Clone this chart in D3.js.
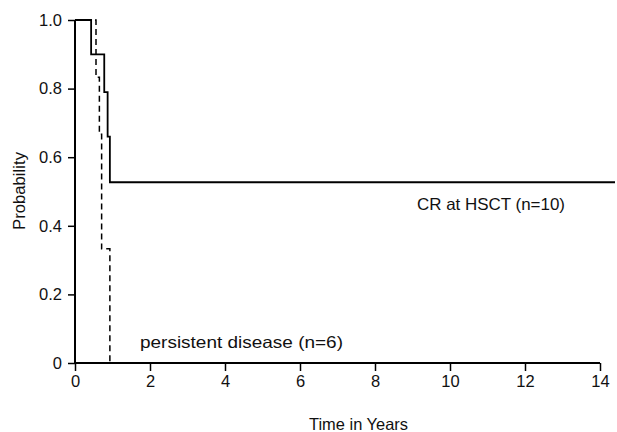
<!DOCTYPE html>
<html>
<head>
<meta charset="utf-8">
<script src="https://cdn.jsdelivr.net/npm/d3@7"></script>
<style>
  body { margin: 0; background: #fff; }
  text { font-family: "Liberation Sans", Arial, sans-serif; }
</style>
</head>
<body>
<div id="mainChart"></div>
<script>
// Kaplan-Meier style step curves
const crTimes = [0, 0.43, 0.78, 0.87, 0.93, 14.4];
const crProb = [1.0, 0.9, 0.79, 0.66, 0.527, 0.527];

const pdTimes = [0, 0.56, 0.65, 0.71, 0.93];
const pdProb = [1.0, 0.833, 0.667, 0.333, 0.0];

const xTicks = [0, 2, 4, 6, 8, 10, 12, 14];
const yTicks = [0, 0.2, 0.4, 0.6, 0.8, 1.0];

const CHART_SIZE = { width: 617, height: 432 };
const MARGIN = { top: 20, right: 17, bottom: 69, left: 75 };

const x = d3.scaleLinear()
    .domain([0, 14])
    .range([MARGIN.left, CHART_SIZE.width - MARGIN.right]);

const y = d3.scaleLinear()
    .domain([0, 1])
    .range([CHART_SIZE.height - MARGIN.bottom, MARGIN.top]);

const svg = d3.select('#mainChart')
    .append('svg')
    .attr('width', CHART_SIZE.width)
    .attr('height', CHART_SIZE.height);

const xAxis = svg.append('g')
    .attr('transform', `translate(0, ${y(0)})`)
    .call(d3.axisBottom(x).tickValues(xTicks).tickSize(8).tickPadding(4).tickFormat(d3.format('d')));

const yAxis = svg.append('g')
    .attr('transform', `translate(${x(0)}, 0)`)
    .call(d3.axisLeft(y).tickValues(yTicks).tickSize(7).tickPadding(6)
        .tickFormat(d => d === 0 ? '0' : d3.format('.1f')(d)));

[xAxis, yAxis].forEach(g => {
    g.attr('font-size', null).attr('font-family', null);
    g.select('.domain').attr('stroke', '#000').attr('stroke-width', 2);
    g.selectAll('.tick line').attr('stroke', '#000').attr('stroke-width', 1.5);
    g.selectAll('.tick text').attr('fill', '#111')
        .style('font-size', '16.5px');
});
xAxis.select('.domain').attr('d', `M${x(0)},0H${x(14)}`);
yAxis.select('.domain').attr('d', `M0,${y(0)}V${y(1)}`);

const step = d3.line().curve(d3.curveStepAfter);

svg.append('path')
    .attr('fill', 'none')
    .attr('stroke', '#000')
    .attr('stroke-width', 1.8)
    .attr('d', step(crTimes.map((t, i) => [x(t), y(crProb[i])])));

svg.append('path')
    .attr('fill', 'none')
    .attr('stroke', '#000')
    .attr('stroke-width', 1.5)
    .attr('stroke-dasharray', '6,4')
    .attr('d', step(pdTimes.map((t, i) => [x(t), y(pdProb[i])])));

const label = (txt, px, py, len) => svg.append('text')
    .attr('x', px)
    .attr('y', py)
    .attr('fill', '#111')
    .attr('textLength', len)
    .attr('lengthAdjust', 'spacingAndGlyphs')
    .style('font-size', '16.5px')
    .text(txt);

label('CR at HSCT (n=10)', 417, 210, 148);
label('persistent disease (n=6)', 140, 348, 203);
label('Time in Years', 309, 430, 99);

svg.append('text')
    .attr('transform', `translate(25, 191) rotate(-90)`)
    .attr('text-anchor', 'middle')
    .attr('fill', '#111')
    .attr('textLength', 78)
    .attr('lengthAdjust', 'spacingAndGlyphs')
    .style('font-size', '16.5px')
    .text('Probability');
</script>
</body>
</html>
